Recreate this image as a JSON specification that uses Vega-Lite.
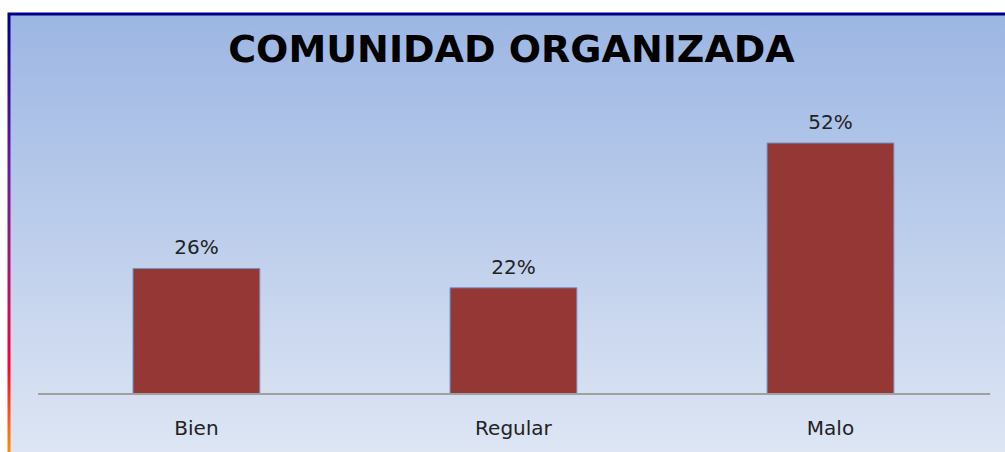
{
  "$schema": "https://vega.github.io/schema/vega-lite/v6.json",
  "width": 1005,
  "height": 441,
  "autosize": {"type": "none"},
  "padding": {"left": 9, "top": 14, "right": 0, "bottom": 0},
  "background": "white",
  "title": {
    "text": "COMUNIDAD ORGANIZADA",
    "font": "DejaVu Sans",
    "fontSize": 38,
    "fontWeight": "bold",
    "color": "#000000",
    "anchor": "middle",
    "frame": "group",
    "orient": "top",
    "baseline": "alphabetic",
    "offset": -86
  },
  "config": {
    "view": {
      "fill": {
        "gradient": "linear", "x1": 0, "y1": 0, "x2": 0, "y2": 1,
        "stops": [
          {"offset": 0, "color": "#9CB6E3"},
          {"offset": 1, "color": "#DEE6F4"}
        ]
      },
      "stroke": {
        "gradient": "linear", "x1": 0, "y1": 0, "x2": 0, "y2": 1,
        "stops": [
          {"offset": 0, "color": "#00008B"},
          {"offset": 0.35, "color": "#6A1BA0"},
          {"offset": 0.65, "color": "#C4105C"},
          {"offset": 0.8, "color": "#FF0030"},
          {"offset": 0.95, "color": "#FF7010"},
          {"offset": 1, "color": "#FF8C00"}
        ]
      },
      "strokeWidth": 3
    }
  },
  "data": {
    "values": [
      {"categoria": "Bien", "valor": 0.26},
      {"categoria": "Regular", "valor": 0.22},
      {"categoria": "Malo", "valor": 0.52}
    ]
  },
  "layer": [
    {
      "mark": {"type": "bar", "color": "#953735", "stroke": "#6E95CC", "strokeWidth": 1},
      "encoding": {
        "x": {
          "field": "categoria", "type": "nominal", "sort": null,
          "scale": {"paddingInner": 0.6, "paddingOuter": 0.385, "align": 0.508},
          "axis": {
            "orient": "bottom", "domain": false, "ticks": false, "grid": false,
            "title": null, "labelAngle": 0, "labelFont": "DejaVu Sans",
            "labelFontSize": 20, "labelColor": "#222222",
            "labelBaseline": "alphabetic", "labelPadding": -21
          }
        },
        "y": {
          "field": "valor", "type": "quantitative",
          "scale": {"domain": [-0.1264, 0.7872], "nice": false, "zero": false},
          "axis": null
        },
        "y2": {"datum": 0}
      }
    },
    {
      "mark": {"type": "text", "font": "DejaVu Sans", "fontSize": 20, "color": "#222222", "baseline": "alphabetic", "dy": -14},
      "encoding": {
        "x": {"field": "categoria", "type": "nominal", "sort": null},
        "y": {"field": "valor", "type": "quantitative"},
        "text": {"field": "valor", "type": "quantitative", "format": ".0%"}
      }
    },
    {
      "data": {"values": [{"inicio": "Bien", "fin": "Malo", "base": 0}]},
      "mark": {"type": "rule", "color": "#A0A0A0", "strokeWidth": 2},
      "encoding": {
        "x": {"datum": "Bien", "type": "nominal", "bandPosition": -0.749},
        "x2": {"datum": "Malo", "bandPosition": 1.759},
        "y": {"field": "base", "type": "quantitative"}
      }
    }
  ]
}
